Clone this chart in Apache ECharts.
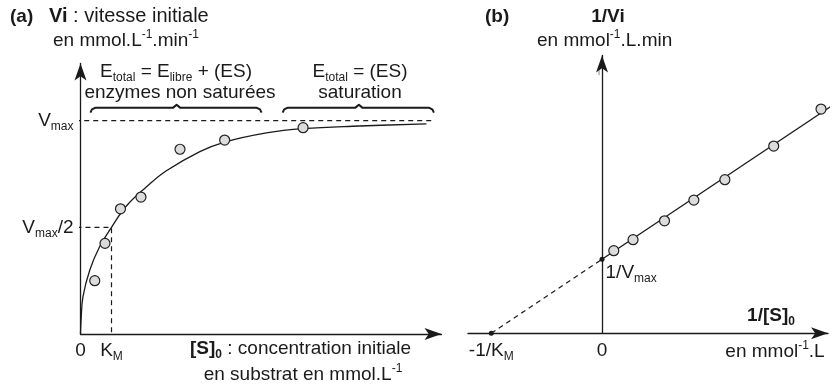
<!DOCTYPE html>
<html>
<head>
<meta charset="utf-8">
<script src="https://cdn.jsdelivr.net/npm/echarts@6/dist/echarts.min.js"></script>
<style>
  html, body { margin: 0; padding: 0; background: #fff; }
  #chart { width: 837px; height: 386px; }
</style>
</head>
<body>
<div id="chart"></div>
<script>
// (a) Michaelis-Menten : [S]0 exprimé en unités de KM, Vi en unités de Vmax
const KM = 1;
const VMAX = 1;
const mmPoints = [[0.46, 0.25], [0.79, 0.425], [1.29, 0.587], [1.95, 0.642], [3.21, 0.866], [4.65, 0.909], [7.18, 0.967]];
const mmCurve = [[0, 0], [0.02, 0.07], [0.08, 0.175], [0.3, 0.3], [0.62, 0.41], [1, 0.5], [1.48, 0.6], [2.13, 0.69],
  [2.77, 0.765], [3.85, 0.855], [4.65, 0.9], [6, 0.943], [7.18, 0.963], [9, 0.975], [11.16, 0.985]];
const vmaxLineEnd = 11.32;
// accolades : debut, fin, pointe
const braces = [[0.32, 5.84, 3.1], [6.52, 11.4, 8.98]];

// (b) Lineweaver-Burk : 1/[S]0 en unités de 1/KM, 1/Vi en unités de 1/Vmax
const lbPoints = [[0.106, 1.116], [0.28, 1.265], [0.564, 1.52], [0.829, 1.8], [1.109, 2.076], [1.55, 2.53], [1.977, 3.03]];
const lbLine = [[0, 1], [2.118, 3.118]];
const lbDashed = [[-1 / KM, 0], [0, 1 / VMAX]];

const FONT = '"Liberation Sans", Arial, sans-serif';
const INK = '#1a1a1a';
const FS = 19;
const SS = 12;

const rich = {
  bb: { fontSize: FS, fontWeight: 'bold', fontFamily: FONT, color: INK, fill: INK, lineHeight: 24 },
  n: { fontSize: FS, fontFamily: FONT, color: INK, fill: INK, lineHeight: 24 },
  big: { fontSize: 20, fontFamily: FONT, color: INK, fill: INK, lineHeight: 24 },
  bigb: { fontSize: 20, fontWeight: 'bold', fontFamily: FONT, color: INK, fill: INK, lineHeight: 24 },
  sub: { fontSize: SS, fontFamily: FONT, color: INK, fill: INK, verticalAlign: 'bottom', lineHeight: 11 },
  bsub: { fontSize: SS, fontWeight: 'bold', fontFamily: FONT, color: INK, fill: INK, verticalAlign: 'bottom', lineHeight: 11 },
  sup: { fontSize: SS, fontFamily: FONT, color: INK, fill: INK, verticalAlign: 'top', lineHeight: 11 }
};

function txt(x, y, text, align, weight) {
  return {
    type: 'text', x: x, y: y, z: 100, silent: true,
    style: {
      text: text, rich: rich, fill: INK, fontSize: FS, fontFamily: FONT, fontWeight: weight || 'normal',
      lineHeight: 24, align: align || 'left', textAlign: align || 'left',
      verticalAlign: 'middle', textVerticalAlign: 'middle'
    }
  };
}

function bracePath(b) {
  const x0 = b[0], x1 = b[1], p = b[2];
  return [[x0, 1.038], [x0 + 0.05, 1.053], [x0 + 0.15, 1.06], [p - 0.12, 1.06], [p, 1.075],
    [p + 0.12, 1.06], [x1 - 0.15, 1.06], [x1 - 0.05, 1.053], [x1, 1.038]];
}

const axisLineStyle = { color: INK, width: 1.3 };
const lineStyle = { color: INK, width: 1.3 };
const dashStyle = { color: INK, width: 1.2, type: [5, 4] };

const chart = echarts.init(document.getElementById('chart'));
chart.setOption({
  backgroundColor: '#fff',
  animation: false,
  textStyle: { fontFamily: FONT },
  grid: [
    { left: 80.5, top: 63.5, width: 361, height: 270.5 },
    { left: 468, top: 55.5, width: 360, height: 277.8 }
  ],
  xAxis: [{
    gridIndex: 0, type: 'value', min: 0, max: 11.645,
    axisLine: { show: true, onZero: false, symbol: ['none', 'arrow'], symbolSize: [9, 17], lineStyle: axisLineStyle },
    axisTick: { show: false }, splitLine: { show: false },
    axisLabel: {
      customValues: [0, KM], margin: 5, color: INK, fontSize: FS, rich: rich,
      formatter: v => v === 0 ? '{n|0}' : '{n|K}{sub|M}'
    }
  }, {
    gridIndex: 1, type: 'value', min: -1.21, max: 2.04,
    axisLine: { show: true, onZero: true, symbol: ['none', 'arrow'], symbolSize: [9, 17], lineStyle: axisLineStyle },
    axisTick: { show: false }, splitLine: { show: false },
    axisLabel: {
      customValues: [-1 / KM, 0], margin: 5, color: INK, fontSize: FS, rich: rich,
      formatter: v => v === 0 ? '{n|0}' : '{n|-1/K}{sub|M}'
    }
  }],
  yAxis: [{
    gridIndex: 0, type: 'value', min: 0, max: 1.268,
    axisLine: { show: true, onZero: true, symbol: ['none', 'arrow'], symbolSize: [9, 17], lineStyle: axisLineStyle },
    axisTick: { show: false }, splitLine: { show: false },
    axisLabel: {
      customValues: [VMAX / 2, VMAX], margin: 7, color: INK, fontSize: FS, rich: rich,
      formatter: v => v === VMAX ? '{n|V}{sub|max}' : '{n|V}{sub|max}{n|/2}'
    }
  }, {
    gridIndex: 1, type: 'value', min: 0, max: 3.754,
    axisLine: { show: true, onZero: true, symbol: ['none', 'arrow'], symbolSize: [9, 17], lineStyle: axisLineStyle },
    axisTick: { show: false }, splitLine: { show: false }, axisLabel: { show: false }
  }],
  series: [
    { type: 'line', xAxisIndex: 0, yAxisIndex: 0, data: mmCurve, smooth: 0.4, symbol: 'none', lineStyle: lineStyle, z: 3 },
    { type: 'line', xAxisIndex: 0, yAxisIndex: 0, data: [[-0.17, VMAX], [vmaxLineEnd, VMAX]], symbol: 'none', clip: false, lineStyle: dashStyle },
    { type: 'line', xAxisIndex: 0, yAxisIndex: 0, data: [[-0.13, VMAX / 2], [KM, VMAX / 2], [KM, 0]], symbol: 'none', clip: false, lineStyle: dashStyle },
    ...braces.map(b => ({
      type: 'line', xAxisIndex: 0, yAxisIndex: 0, data: bracePath(b), symbol: 'none',
      lineStyle: { color: INK, width: 2, join: 'round' }
    })),
    {
      type: 'scatter', xAxisIndex: 0, yAxisIndex: 0, data: mmPoints, symbolSize: 10, z: 5,
      itemStyle: { color: '#dcdcdc', borderColor: '#222', borderWidth: 1.2, opacity: 1 }
    },
    { type: 'line', xAxisIndex: 1, yAxisIndex: 1, data: lbLine, symbol: 'none', clip: false, lineStyle: lineStyle, z: 3 },
    { type: 'line', xAxisIndex: 1, yAxisIndex: 1, data: lbDashed, symbol: 'none', lineStyle: dashStyle },
    {
      type: 'scatter', xAxisIndex: 1, yAxisIndex: 1, data: lbPoints, symbolSize: 10, z: 5,
      itemStyle: { color: '#dcdcdc', borderColor: '#222', borderWidth: 1.2, opacity: 1 }
    },
    {
      type: 'scatter', xAxisIndex: 1, yAxisIndex: 1, data: lbDashed, symbolSize: 5, z: 6, clip: false,
      itemStyle: { color: INK, opacity: 1 },
      label: {
        show: true, position: [6, 4], align: 'left', verticalAlign: 'top', rich: rich,
        formatter: p => p.value[0] === 0 ? '{n|1/V}{sub|max}' : ''
      }
    }
  ],
  graphic: [
    txt(10, 17, '(a)', 'left', 'bold'),
    txt(49, 16, '{bigb|Vi}{big| : vitesse initiale}'),
    txt(53, 41, 'en mmol.L{sup|-1}.min{sup|-1}'),
    txt(176, 72, 'E{sub|total} = E{sub|libre} + (ES)', 'center'),
    txt(180, 93, 'enzymes non saturées', 'center'),
    txt(360, 72, 'E{sub|total} = (ES)', 'center'),
    txt(360, 93, 'saturation', 'center'),
    txt(190, 349, '{bb|[S]}{bsub|0} : concentration initiale'),
    txt(303, 375, 'en substrat en mmol.L{sup|-1}', 'center'),
    txt(485, 17, '(b)', 'left', 'bold'),
    txt(608, 17, '{bb|1/Vi}', 'center'),
    txt(537, 41, 'en mmol{sup|-1}.L.min'),
    {
      type: 'text', x: 599, y: 73, silent: true,
      style: { text: 'i', fill: '#444', fontSize: 7, fontFamily: FONT, align: 'center', verticalAlign: 'middle', textAlign: 'center', textVerticalAlign: 'middle' }
    },
    txt(771, 316, '{bb|1/[S]}{bsub|0}', 'center'),
    txt(775, 352, 'en mmol{sup|-1}.L', 'center')
  ]
});
</script>
</body>
</html>
